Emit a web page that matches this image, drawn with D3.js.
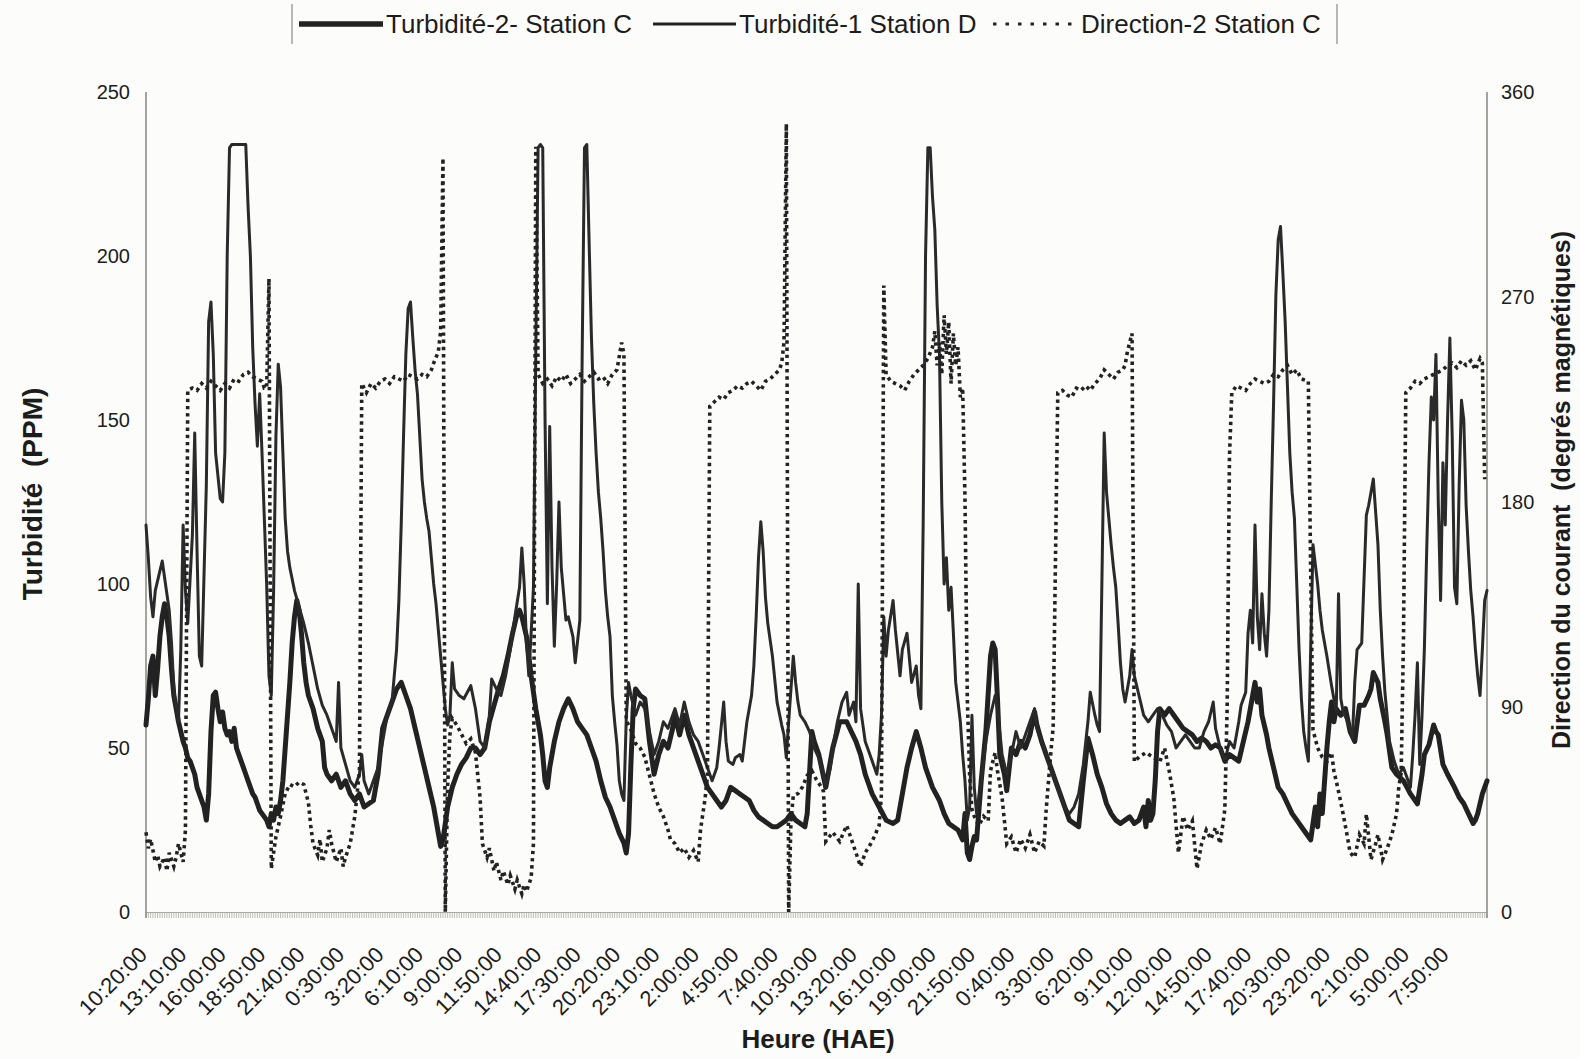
<!DOCTYPE html>
<html lang="fr">
<head>
<meta charset="utf-8">
<title>Turbidité et direction du courant</title>
<script src="https://cdn.jsdelivr.net/npm/d3@7"></script>
<style>
  html, body { margin: 0; padding: 0; background: #fcfcfa; }
  svg { display: block; }
  text { font-family: "Liberation Sans", Arial, Helvetica, sans-serif; fill: #1c1c1c; }
</style>
</head>
<body>
<svg id="chart" width="1580" height="1059"></svg>
<script>
// Sample index = 10-minute steps from the first reading (10:20:00).
const sampleCount = 578;

// Category labels shown every 17 samples (2 h 50 min).
const timeLabels = ["10:20:00","13:10:00","16:00:00","18:50:00","21:40:00","0:30:00","3:20:00","6:10:00",
  "9:00:00","11:50:00","14:40:00","17:30:00","20:20:00","23:10:00","2:00:00","4:50:00","7:40:00",
  "10:30:00","13:20:00","16:10:00","19:00:00","21:50:00","0:40:00","3:30:00","6:20:00","9:10:00",
  "12:00:00","14:50:00","17:40:00","20:30:00","23:20:00","2:10:00","5:00:00","7:50:00"];

const turbidityTicks = [0, 50, 100, 150, 200, 250];
const directionTicks = [0, 90, 180, 270, 360];

// Turbidité-2 Station C (PPM): [sample, value]
const turbidite2 = [[0,57],[1,65],[2,75],[3,78],[4,66],[5,74],[6,84],[7,90],[8,94],[9,90],[10,84],[11,74],[12,66],[13,62],[14,58],[15,55],[16,52],[17,50],[18,47],[19,46],[20,44],[21,42],[22,38],[23,36],[24,34],[25,32],[26,28],[27,36],[28,55],[29,66],[30,67],[31,62],[32,58],[33,61],[34,56],[35,54],[36,55],[37,52],[38,56],[39,50],[40,48],[41,46],[42,44],[43,42],[44,40],[45,38],[46,36],[47,35],[48,33],[49,31],[50,30],[51,29],[52,28],[53,26],[54,30],[55,28],[56,32],[57,30],[58,34],[59,40],[60,50],[62,70],[63,82],[64,90],[65,95],[66,92],[67,85],[68,76],[69,70],[70,66],[72,62],[74,56],[76,52],[77,44],[78,42],[80,40],[82,42],[84,38],[86,40],[88,36],[90,34],[92,36],[94,32],[96,33],[98,34],[100,42],[102,56],[104,60],[106,64],[108,68],[110,70],[112,66],[114,62],[116,56],[118,50],[120,44],[122,38],[124,32],[126,24],[127,20],[128,22],[130,32],[132,38],[134,42],[136,45],[138,47],[140,50],[142,50],[144,48],[146,50],[148,58],[150,63],[152,68],[154,72],[156,78],[158,85],[160,91],[161,92],[162,90],[164,84],[166,72],[168,62],[170,54],[171,48],[172,40],[173,38],[174,44],[176,52],[178,58],[180,62],[182,65],[184,62],[186,58],[188,56],[190,54],[192,50],[194,46],[196,40],[198,35],[200,32],[202,28],[204,24],[206,21],[207,18],[208,24],[209,45],[210,62],[211,68],[213,66],[215,65],[217,52],[219,42],[221,48],[223,52],[225,50],[227,56],[228,60],[230,54],[232,60],[234,54],[236,50],[238,46],[240,42],[242,38],[244,36],[246,34],[248,32],[250,34],[252,38],[254,37],[256,36],[258,35],[260,34],[262,31],[264,29],[266,28],[268,27],[270,26],[272,26],[274,27],[276,28],[278,30],[280,28],[282,27],[284,26],[285,30],[287,55],[288,52],[290,48],[293,38],[296,50],[299,58],[302,58],[304,55],[306,52],[308,48],[310,42],[313,36],[316,32],[319,28],[322,27],[324,28],[326,36],[328,44],[330,50],[332,55],[334,50],[336,44],[339,38],[342,34],[344,30],[346,27],[348,26],[350,25],[352,22],[353,30],[354,18],[355,16],[356,20],[357,23],[358,22],[360,40],[362,55],[364,78],[365,82],[366,80],[367,65],[368,48],[370,42],[371,37],[373,50],[375,48],[377,52],[379,50],[381,54],[383,61],[384,57],[386,52],[388,48],[390,44],[392,40],[394,36],[396,32],[398,28],[400,27],[402,26],[404,40],[406,53],[408,48],[410,42],[412,38],[414,33],[416,30],[418,28],[420,27],[422,28],[424,29],[426,27],[428,28],[430,32],[431,26],[432,34],[433,28],[434,30],[435,40],[436,55],[437,62],[439,60],[441,62],[443,60],[445,58],[447,56],[449,55],[451,54],[453,52],[455,53],[457,52],[459,50],[461,51],[463,50],[465,46],[467,48],[469,47],[471,46],[473,52],[475,58],[477,66],[478,70],[479,64],[480,68],[481,60],[483,54],[484,50],[486,44],[488,38],[490,36],[492,33],[494,30],[496,28],[498,26],[500,24],[502,22],[504,32],[505,26],[506,36],[507,30],[508,40],[509,50],[510,58],[511,64],[512,58],[513,62],[515,60],[517,62],[519,55],[521,52],[523,63],[525,63],[527,66],[528,68],[529,73],[531,70],[532,65],[534,58],[535,54],[537,44],[539,42],[542,40],[545,36],[548,33],[550,42],[551,48],[553,51],[555,57],[556,55],[557,54],[559,45],[561,42],[564,38],[566,35],[568,33],[570,30],[572,27],[573,28],[574,30],[576,36],[578,40]];

// Turbidité-1 Station D (PPM): [sample, value]
const turbidite1 = [[0,118],[1,108],[2,96],[3,90],[4,98],[6,104],[7,107],[8,102],[10,92],[11,82],[12,68],[13,62],[14,58],[15,80],[16,118],[17,98],[18,88],[20,115],[21,146],[22,110],[23,78],[24,75],[26,130],[27,180],[28,186],[29,170],[30,140],[32,126],[33,125],[34,140],[35,200],[36,233],[37,234],[43,234],[44,215],[45,200],[46,172],[47,155],[48,142],[49,158],[50,140],[51,120],[52,100],[53,72],[54,66],[55,98],[56,145],[57,167],[58,160],[59,140],[60,120],[61,110],[62,105],[64,98],[66,93],[68,88],[70,82],[72,75],[74,68],[76,63],[78,60],[80,56],[82,52],[83,70],[84,50],[86,45],[88,40],[90,38],[92,42],[93,48],[94,40],[96,36],[98,40],[100,44],[102,52],[104,60],[106,64],[107,72],[108,80],[109,95],[110,118],[111,145],[112,170],[113,184],[114,186],[115,175],[116,165],[117,158],[118,145],[119,132],[120,125],[121,120],[122,116],[123,108],[124,100],[125,94],[126,86],[127,78],[128,70],[129,62],[130,57],[131,60],[132,76],[133,68],[135,66],[137,65],[140,69],[142,62],[144,52],[146,50],[148,60],[149,71],[151,68],[153,66],[155,72],[157,80],[159,90],[161,99],[162,111],[163,100],[164,82],[165,72],[166,85],[167,99],[168,170],[169,233],[170,234],[171,233],[172,150],[173,94],[174,148],[175,105],[176,81],[177,100],[178,125],[179,105],[181,89],[182,90],[184,84],[185,76],[187,89],[188,170],[189,233],[190,234],[191,204],[192,175],[193,155],[194,140],[195,128],[196,120],[197,110],[198,98],[199,90],[200,84],[201,66],[202,58],[203,51],[204,40],[205,36],[206,34],[207,59],[208,70],[209,66],[211,60],[213,64],[215,62],[217,55],[219,48],[221,52],[223,58],[225,56],[227,60],[228,62],[230,57],[232,64],[234,58],[236,54],[238,52],[240,48],[242,44],[244,40],[246,44],[247,50],[249,64],[250,52],[251,46],[253,45],[254,47],[256,48],[257,46],[259,58],[261,66],[262,75],[263,90],[264,108],[265,119],[266,110],[267,96],[268,88],[270,78],[272,64],[274,57],[275,54],[276,47],[277,58],[279,78],[280,70],[281,64],[282,60],[284,58],[286,55],[288,50],[290,47],[292,42],[293,38],[295,44],[296,50],[298,58],[300,64],[302,67],[303,60],[305,64],[306,58],[307,100],[308,62],[310,52],[312,48],[313,46],[315,42],[316,48],[317,60],[318,90],[319,78],[320,86],[322,95],[323,86],[325,72],[326,80],[328,85],[330,70],[332,75],[333,66],[334,62],[335,120],[336,200],[337,233],[338,233],[339,218],[340,208],[341,185],[342,170],[343,125],[344,100],[345,108],[346,92],[347,99],[348,85],[349,70],[351,58],[352,48],[353,40],[354,28],[355,32],[356,60],[357,38],[358,30],[360,40],[362,52],[364,60],[366,66],[367,62],[369,48],[371,42],[373,48],[375,55],[377,50],[379,54],[381,58],[383,62],[384,56],[386,52],[388,48],[390,44],[392,40],[394,36],[396,32],[398,30],[400,32],[402,36],[404,45],[406,58],[407,67],[409,60],[410,57],[411,55],[412,100],[413,146],[414,128],[415,120],[416,112],[417,105],[418,99],[419,88],[420,76],[421,68],[422,64],[423,68],[424,72],[425,80],[426,72],[428,66],[430,60],[432,58],[434,60],[436,62],[438,60],[440,57],[442,55],[444,50],[446,52],[448,54],[450,52],[452,50],[454,50],[456,55],[458,58],[460,64],[461,56],[463,50],[465,46],[467,52],[469,50],[471,58],[472,63],[474,67],[475,85],[476,92],[477,82],[478,118],[479,90],[480,80],[481,97],[482,85],[483,78],[484,92],[485,125],[486,155],[487,188],[488,205],[489,209],[490,195],[491,180],[492,160],[493,140],[494,128],[495,120],[496,100],[497,80],[498,65],[499,55],[500,50],[501,46],[502,80],[503,112],[504,106],[505,100],[506,92],[507,86],[509,78],[511,69],[513,61],[514,97],[515,65],[516,61],[518,58],[520,53],[521,70],[522,80],[524,82],[526,121],[527,124],[528,128],[529,132],[530,122],[531,112],[532,92],[533,78],[534,67],[536,52],[538,46],[540,42],[542,44],[544,40],[545,38],[546,48],[547,60],[548,76],[549,45],[550,60],[551,80],[552,110],[553,137],[554,157],[555,150],[556,170],[557,125],[558,95],[559,137],[560,118],[561,150],[562,175],[563,145],[564,99],[565,94],[566,130],[567,156],[568,150],[569,124],[570,110],[571,98],[572,90],[573,80],[574,72],[575,66],[576,80],[577,95],[578,98]];

// Direction-2 Station C (degrés magnétiques): [sample, value]
const direction2 = [[0,35],[1,28],[2,32],[4,22],[5,25],[6,20],[8,24],[9,18],[10,26],[12,20],[13,24],[14,30],[16,22],[17,36],[18,229],[20,230],[22,229],[24,232],[26,230],[28,233],[30,231],[32,229],[34,232],[36,230],[38,234],[40,233],[42,236],[44,237],[46,235],[48,234],[50,233],[51,230],[52,230],[53,278],[54,19],[56,33],[58,42],[60,52],[62,56],[64,55],[66,57],[68,56],[70,48],[71,38],[72,30],[74,25],[75,32],[76,22],[78,28],[79,36],[80,30],[82,22],[84,28],[85,20],[86,24],[88,30],[89,36],[90,42],[91,52],[92,62],[93,232],[95,228],[97,232],[99,230],[101,233],[103,234],[105,232],[107,235],[109,234],[111,233],[113,236],[115,235],[117,234],[119,236],[121,235],[123,238],[124,241],[126,246],[127,255],[128,331],[129,0],[130,55],[131,78],[132,85],[134,82],[136,78],[138,74],[140,76],[142,70],[144,50],[145,30],[147,24],[148,28],[150,18],[151,22],[153,14],[154,18],[156,12],[157,16],[159,10],[160,14],[162,8],[163,12],[164,9],[166,15],[167,30],[168,336],[169,236],[171,232],[173,234],[175,231],[177,235],[179,233],[181,236],[183,232],[185,234],[187,236],[189,233],[191,235],[193,237],[195,234],[197,235],[199,232],[201,236],[203,238],[204,244],[205,250],[206,245],[207,84],[209,80],[211,74],[213,72],[215,68],[217,60],[219,52],[221,46],[223,42],[225,36],[226,32],[228,30],[230,26],[232,28],[234,24],[236,27],[238,22],[239,36],[241,50],[242,60],[243,222],[245,224],[247,226],[249,225],[251,228],[253,229],[255,231],[257,230],[259,232],[261,233],[263,231],[265,229],[267,233],[269,234],[271,236],[273,238],[274,241],[275,250],[276,346],[277,0],[278,40],[279,51],[281,52],[283,55],[285,60],[287,62],[289,58],[291,55],[292,53],[293,31],[296,35],[299,31],[302,38],[305,29],[308,20],[310,26],[313,31],[316,38],[317,52],[318,275],[319,236],[321,233],[323,232],[325,231],[327,229],[329,233],[331,236],[333,238],[335,240],[337,243],[339,248],[340,255],[341,240],[342,250],[343,236],[344,262],[345,245],[346,259],[347,232],[348,254],[349,240],[350,248],[351,226],[352,230],[353,182],[354,94],[355,60],[356,45],[357,42],[359,38],[361,42],[363,40],[364,62],[366,70],[367,62],[369,50],[371,30],[373,33],[375,26],[377,32],[379,28],[381,34],[383,26],[385,31],[387,29],[388,45],[390,70],[391,81],[393,228],[395,229],[397,227],[399,226],[401,230],[403,229],[405,231],[407,229],[409,232],[411,234],[413,238],[415,236],[417,234],[419,237],[421,238],[422,240],[423,246],[424,250],[425,254],[426,66],[428,68],[431,70],[434,68],[437,66],[439,72],[441,62],[443,50],[445,26],[447,42],[449,36],[451,40],[453,19],[455,30],[457,36],[459,32],[461,37],[463,30],[465,45],[466,90],[467,200],[468,228],[470,231],[472,230],[474,229],[476,232],[478,234],[480,233],[482,232],[484,233],[486,236],[488,235],[490,238],[492,240],[494,236],[496,238],[498,234],[501,233],[502,150],[503,80],[505,72],[507,68],[509,66],[511,70],[512,62],[514,53],[516,43],[518,32],[519,26],[521,24],[523,34],[525,30],[526,43],[528,23],[530,30],[531,34],[533,23],[535,28],[537,34],[539,43],[540,55],[541,61],[542,120],[543,228],[545,230],[547,233],[549,232],[551,234],[553,235],[555,236],[557,237],[559,238],[561,240],[563,241],[565,239],[567,242],[569,240],[571,242],[573,238],[575,243],[576,241],[577,190]];

const legendItems = [
  { label: "Turbidité-2- Station C", width: 5.5, dash: null },
  { label: "Turbidité-1 Station D", width: 3, dash: null },
  { label: "Direction-2 Station C", width: 3.2, dash: "3.5 9" }
];

const svg = d3.select("#chart");
const W = 1580, H = 1059;
const plot = { left: 146, right: 1487, top: 92, bottom: 912 };
const ink = "#222222";

svg.append("rect").attr("width", W).attr("height", H).attr("fill", "#fcfcfa");

const x = d3.scaleLinear().domain([0, sampleCount]).range([plot.left, plot.right]);
const yL = d3.scaleLinear().domain([0, 250]).range([plot.bottom, plot.top]);
const yR = d3.scaleLinear().domain([0, 360]).range([plot.bottom, plot.top]);

// Dense category tick band under the plot
svg.append("g")
  .selectAll("line")
  .data(d3.range(0, sampleCount + 1))
  .join("line")
  .attr("x1", d => x(d)).attr("x2", d => x(d))
  .attr("y1", plot.bottom).attr("y2", plot.bottom + 6)
  .attr("stroke", "#b4b4b0").attr("stroke-width", 0.9);

svg.append("line")
  .attr("x1", plot.left).attr("x2", plot.right)
  .attr("y1", plot.bottom + 0.5).attr("y2", plot.bottom + 0.5)
  .attr("stroke", "#a8a8a4").attr("stroke-width", 1.2);

// Vertical axis lines
[plot.left, plot.right].forEach(px => {
  svg.append("line")
    .attr("x1", px).attr("x2", px)
    .attr("y1", plot.top).attr("y2", plot.bottom + 6)
    .attr("stroke", "#8c8c88").attr("stroke-width", 1.6);
});

// Left axis (turbidity)
const gL = svg.append("g")
  .attr("transform", `translate(${plot.left},0)`)
  .call(d3.axisLeft(yL).tickValues(turbidityTicks).tickSize(0).tickPadding(16));
gL.select(".domain").remove();
gL.selectAll("text").attr("font-size", 20).attr("font-family", null).attr("fill", "#1c1c1c");

// Right axis (direction)
const gR = svg.append("g")
  .attr("transform", `translate(${plot.right},0)`)
  .call(d3.axisRight(yR).tickValues(directionTicks).tickSize(0).tickPadding(14));
gR.select(".domain").remove();
gR.selectAll("text").attr("font-size", 20).attr("font-family", null).attr("fill", "#1c1c1c");

// Bottom axis (time labels, rotated)
const labelIdx = d3.range(0, timeLabels.length).map(i => i * 17);
const gB = svg.append("g")
  .attr("transform", `translate(0,${plot.bottom})`)
  .call(d3.axisBottom(x).tickValues(labelIdx).tickSize(0).tickFormat((d, i) => timeLabels[i]));
gB.select(".domain").remove();
gB.selectAll("text")
  .attr("font-size", 22).attr("font-family", null).attr("fill", "#1c1c1c")
  .attr("text-anchor", "end")
  .attr("dy", null).attr("y", 0).attr("x", 0)
  .attr("transform", "translate(2,44) rotate(-45)");

// Series
const line = (scale) => d3.line().x(d => x(d[0])).y(d => scale(d[1]));

svg.append("path")
  .datum(turbidite2)
  .attr("d", line(yL))
  .attr("fill", "none").attr("stroke", ink)
  .attr("stroke-width", 5).attr("stroke-linejoin", "round").attr("stroke-linecap", "round");

svg.append("path")
  .datum(turbidite1)
  .attr("d", line(yL))
  .attr("fill", "none").attr("stroke", "#2a2a2a")
  .attr("stroke-width", 3).attr("stroke-linejoin", "round").attr("stroke-linecap", "round");

svg.append("path")
  .datum(direction2)
  .attr("d", line(yR))
  .attr("fill", "none").attr("stroke", ink)
  .attr("stroke-width", 3.6).attr("stroke-dasharray", "3.4 3.8");

// Axis titles
svg.append("text")
  .attr("transform", "translate(42,494) rotate(-90)")
  .attr("text-anchor", "middle").attr("font-size", 28).attr("font-weight", "bold")
  .style("white-space", "pre")
  .text("Turbidité  (PPM)");

svg.append("text")
  .attr("transform", "translate(1570,490) rotate(-90)")
  .attr("text-anchor", "middle").attr("font-size", 25).attr("font-weight", "bold")
  .style("white-space", "pre")
  .text("Direction du courant  (degrés magnétiques)");

svg.append("text")
  .attr("x", 818).attr("y", 1048)
  .attr("text-anchor", "middle").attr("font-size", 26).attr("font-weight", "bold")
  .text("Heure (HAE)");

// Legend
const legend = svg.append("g");
[292, 1337].forEach(px => {
  legend.append("line")
    .attr("x1", px).attr("x2", px).attr("y1", 4).attr("y2", 44)
    .attr("stroke", "#9a9a96").attr("stroke-width", 1.4);
});
const legendPos = [{ x0: 299, x1: 383, tx: 386 }, { x0: 653, x1: 736, tx: 739 }, { x0: 993, x1: 1078, tx: 1081 }];
legendItems.forEach((item, i) => {
  const p = legendPos[i];
  legend.append("line")
    .attr("x1", p.x0).attr("x2", p.x1).attr("y1", 24).attr("y2", 24)
    .attr("stroke", ink).attr("stroke-width", item.width)
    .attr("stroke-dasharray", item.dash);
  legend.append("text")
    .attr("x", p.tx).attr("y", 33)
    .attr("font-size", 26)
    .text(item.label);
});
</script>
</body>
</html>
